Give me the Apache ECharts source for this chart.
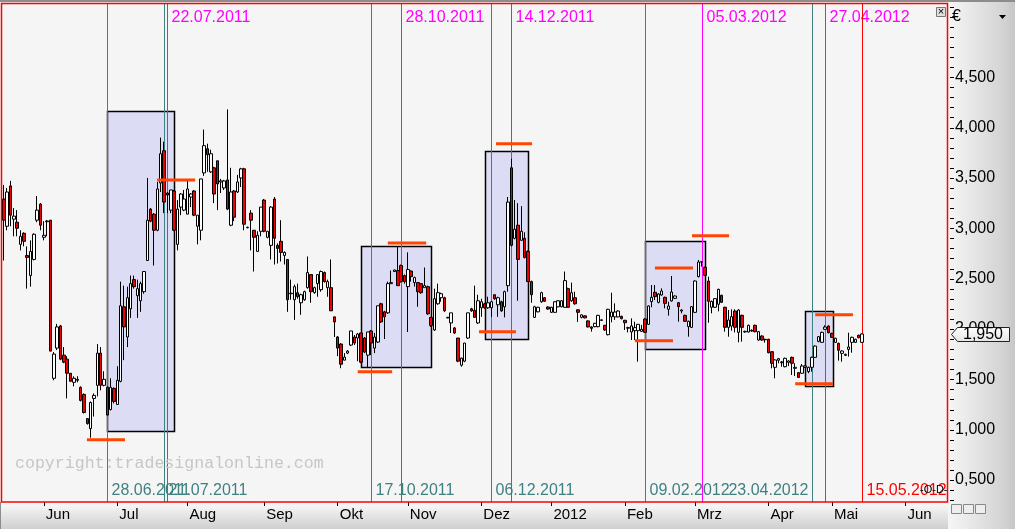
<!DOCTYPE html>
<html><head><meta charset="utf-8">
<script src="https://cdn.jsdelivr.net/npm/echarts@6/dist/echarts.min.js"></script>
<style>
html,body{margin:0;padding:0;background:#f5f5f5;overflow:hidden;}
#c{width:1015px;height:529px;
background:
 linear-gradient(to bottom,#8c8c8c,#8c8c8c) 0 0/1015px 2px no-repeat,
 linear-gradient(to right,#8c8c8c,#8c8c8c) 0 502px/1px 27px no-repeat,
 linear-gradient(to right,#f6f6f6,#d2d2d2 85%,#c6c6c6) 948px 0/67px 529px no-repeat,
 linear-gradient(to bottom,#fbfbfb,#dcdcdc 70%,#cfcfcf) 0 502px/948px 27px no-repeat,
 #f5f5f5;}
</style>
</head><body><div id="c"></div>
<script>
// ---------- categories (trading days) ----------
const firstTradingDay = '2011-05-16';
const holidays = ['2011-12-26','2012-04-06','2012-04-09','2012-05-01'];
const nCategories = 283;
const monthNames = ['Jan','Feb','Mrz','Apr','Mai','Jun','Jul','Aug','Sep','Okt','Nov','Dez'];

// ---------- OHLC values (open, close, low, high) ----------
const ohlc = [
[3.29,3.08,2.68,3.43],[3.02,3.36,2.98,3.40],[3.42,3.13,3.02,3.47],[3.09,3.12,2.92,3.20],[3.06,3.00,2.92,3.18],
[2.84,2.92,2.78,2.98],[2.95,2.87,2.82,2.96],[2.73,2.71,2.40,2.82],[2.53,2.77,2.42,2.88],[2.69,2.94,2.68,2.95],
[3.08,3.18,3.06,3.32],[3.24,3.03,2.98,3.25],[2.91,2.93,2.88,3.07],[3.065,3.072,2.92,3.08],[3.08,1.78,1.78,3.08],
[1.51,1.75,1.49,1.77],[1.81,2.02,1.79,2.05],[2.03,1.70,1.69,2.04],[1.74,1.67,1.66,1.82],[1.70,1.56,1.31,1.73],
[1.56,1.48,1.48,1.56],[1.47,1.51,1.43,1.53],[1.49,1.50,1.47,1.53],[1.42,1.29,1.28,1.43],[1.35,1.17,1.16,1.36],
[1.11,1.06,1.05,1.11],[1.01,1.27,0.92,1.28],[1.31,1.34,1.13,1.36],[1.44,1.76,1.33,1.85],[1.76,1.44,1.39,1.82],
[1.44,1.50,1.43,1.58],[1.42,1.145,1.14,1.43],[1.20,1.42,1.19,1.51],[1.41,1.28,1.26,1.42],[1.25,1.49,1.25,1.63],
[1.48,2.23,1.47,2.47],[2.22,2.02,1.69,2.43],[1.92,2.31,1.82,2.42],[2.20,2.45,2.11,2.53],[2.49,2.42,2.40,2.53],
[2.33,2.40,2.11,2.49],[2.28,2.45,2.17,2.47],[2.37,2.57,2.35,2.57],[2.68,3.08,2.68,3.50],[3.19,3.07,3.06,3.20],
[3.14,2.98,2.63,3.15],[2.98,3.39,2.97,3.46],[3.45,3.74,3.36,3.90],[3.77,3.26,3.15,3.86],[3.35,3.33,3.15,3.36],
[3.18,3.38,3.15,3.38],[3.37,2.98,2.97,3.38],[2.84,3.19,2.78,3.28],[3.21,3.34,3.13,3.35],[3.18,3.29,3.17,3.38],
[3.14,3.39,3.14,3.47],[3.31,3.34,3.21,3.35],[3.37,3.13,3.12,3.38],[3.02,3.13,2.84,3.13],[2.98,3.49,2.88,3.49],
[3.55,3.82,3.52,3.98],[3.79,3.73,3.56,3.84],[3.56,3.74,3.55,3.78],[3.60,3.34,3.25,3.61],[3.67,3.44,3.18,3.67],
[3.46,3.47,3.35,3.49],[3.40,3.47,3.38,3.48],[3.48,3.19,3.18,4.18],[3.03,3.36,3.02,3.60],[3.37,3.11,3.07,3.38],
[3.36,3.46,3.35,3.53],[3.50,3.59,3.41,3.60],[3.59,3.04,2.98,3.60],[3.005,3.01,3.00,3.015],[3.15,3.08,2.78,3.18],
[2.98,2.91,2.57,2.98],[2.77,2.93,2.77,2.97],[2.97,3.21,2.92,3.21],[3.28,2.97,2.96,3.29],[2.91,2.97,2.90,2.97],
[2.83,3.21,2.69,3.22],[3.29,2.90,2.64,3.31],[2.83,2.80,2.65,2.85],[2.87,2.76,2.67,3.08],[2.73,2.76,2.64,2.77],
[2.69,2.29,2.17,2.69],[2.35,2.355,2.29,2.49],[2.29,2.42,2.09,2.44],[2.36,2.32,2.30,2.45],[2.26,2.34,2.14,2.35],
[2.29,2.37,2.28,2.38],[2.41,2.56,2.40,2.72],[2.54,2.37,2.26,2.54],[2.36,2.41,2.35,2.42],[2.45,2.54,2.32,2.54],
[2.39,2.57,2.37,2.58],[2.56,2.47,2.46,2.57],[2.41,2.47,2.32,2.49],[2.41,2.18,2.18,2.69],[2.12,2.07,1.92,2.12],
[1.92,1.81,1.73,1.93],[1.85,1.65,1.61,1.86],[1.69,1.72,1.69,1.76],[1.76,1.78,1.75,1.79],[1.84,1.98,1.83,1.98],
[1.92,1.86,1.84,1.94],[1.91,1.95,1.68,1.96],[1.96,1.67,1.66,1.96],[1.91,1.77,1.76,1.92],[1.74,1.97,1.62,1.97],
[1.98,1.86,1.74,1.99],[1.81,1.92,1.76,1.96],[1.87,2.23,1.86,2.23],[2.25,2.07,2.06,2.26],[2.17,2.12,1.90,2.18],
[2.16,2.45,2.15,2.47],[2.45,2.46,2.45,2.58],[2.57,2.585,2.57,2.59],[2.58,2.43,2.43,2.82],[2.63,2.47,2.46,2.64],
[2.53,2.47,2.45,2.54],[2.42,2.59,1.97,2.76],[2.575,2.52,2.47,2.58],[2.46,2.51,2.42,2.52],[2.46,2.37,2.22,2.46],
[2.45,2.36,2.35,2.45],[2.41,2.43,2.41,2.61],[2.42,2.15,2.14,2.43],[2.115,2.033,2.02,2.12],[1.99,2.30,1.98,2.40],
[2.25,2.36,2.24,2.45],[2.31,2.35,2.27,2.36],[2.31,2.18,2.17,2.32],[2.11,2.115,2.105,2.12],[2.06,2.16,1.96,2.16],
[2.01,1.96,1.95,2.02],[1.91,1.68,1.67,1.91],[1.64,1.71,1.625,1.715],[1.68,1.86,1.67,1.86],[1.91,2.16,1.90,2.16],
[2.20,2.18,2.17,2.21],[2.185,2.115,2.11,2.43],[2.06,2.28,2.05,2.34],[2.21,2.27,2.12,2.30],[2.25,2.21,2.20,2.26],
[2.21,2.26,2.20,2.32],[2.21,2.27,2.12,2.28],[2.34,2.30,2.29,2.34],[2.24,2.31,2.12,2.32],[2.27,2.18,2.17,2.28],
[2.22,2.37,2.115,2.38],[2.43,3.26,2.37,3.31],[3.60,2.83,2.82,3.69],[2.90,2.99,2.89,3.28],[3.03,2.69,2.28,3.25],
[2.88,2.97,2.88,3.22],[2.90,2.71,2.70,2.96],[2.77,2.47,2.47,2.78],[2.47,2.34,2.26,2.48],[2.115,2.22,2.11,2.23],
[2.17,2.215,2.165,2.22],[2.27,2.36,2.26,2.37],[2.31,2.275,2.27,2.315],[2.218,2.198,2.19,2.225],[2.165,2.215,2.16,2.22],
[2.165,2.27,2.16,2.275],[2.22,2.28,2.215,2.285],[2.22,2.28,2.215,2.285],[2.215,2.48,2.21,2.57],[2.40,2.215,2.21,2.41],
[2.28,2.36,2.27,2.46],[2.31,2.25,2.24,2.37],[2.19,2.165,2.07,2.195],[2.115,2.14,2.105,2.145],[2.13,2.11,2.105,2.135],
[2.08,2.02,2.015,2.085],[2.02,2.006,1.973,2.026],[2.023,2.056,2.016,2.06],[2.023,2.135,2.016,2.14],[2.085,2.09,2.08,2.095],
[2.036,1.99,1.983,2.04],[1.943,2.195,1.936,2.20],[2.12,2.168,2.066,2.36],[2.12,2.168,2.09,2.254],[2.12,2.178,2.115,2.185],
[2.125,2.102,2.095,2.132],[2.086,2.062,1.99,2.09],[2.013,2.008,1.966,2.022],[1.97,2.03,1.89,2.105],[1.983,2.013,1.89,2.072],
[1.983,2.046,1.675,2.049],[1.976,1.996,1.97,2.04],[2.099,1.966,1.963,2.105],[2.046,2.228,2.04,2.234],[2.271,2.314,2.215,2.436],
[2.364,2.321,2.287,2.436],[2.264,2.347,2.254,2.354],[2.337,2.377,2.33,2.403],[2.314,2.254,2.205,2.321],[2.195,2.228,2.132,2.271],
[2.278,2.367,2.271,2.526],[2.304,2.327,2.297,2.334],[2.261,2.221,2.072,2.268],[2.178,2.188,2.155,2.195],[2.135,2.076,2.069,2.142],
[2.023,2.076,1.923,2.082],[2.016,2.221,2.01,2.228],[2.165,2.476,2.158,2.482],[2.519,2.665,2.512,2.685],[2.664,2.668,2.619,2.672],
[2.612,2.532,2.526,2.619],[2.476,2.274,2.062,2.519],[2.215,2.274,2.155,2.281],[2.215,2.301,2.208,2.307],[2.245,2.393,2.175,2.40],
[2.334,2.264,2.258,2.34],[2.215,2.016,1.973,2.221],[2.016,2.089,1.923,2.188],[2.029,2.122,1.983,2.195],[2.178,2.016,1.966,2.195],
[1.966,2.188,1.867,2.195],[2.135,2.016,1.874,2.142],[1.970,1.976,1.963,1.983],[1.97,2.036,1.963,2.043],[1.98,1.986,1.973,1.996],
[2.036,1.973,1.966,2.043],[1.89,1.973,1.883,1.98],[1.93,1.89,1.883,1.937],[1.893,1.897,1.864,1.903],[1.897,1.764,1.758,1.903],
[1.774,1.659,1.609,1.781],[1.619,1.692,1.51,1.698],[1.689,1.705,1.659,1.712],[1.665,1.672,1.625,1.682],[1.625,1.708,1.619,1.715],
[1.668,1.682,1.632,1.689],[1.718,1.659,1.543,1.725],[1.609,1.619,1.533,1.659],[1.566,1.519,1.513,1.573],[1.56,1.632,1.553,1.652],
[1.619,1.632,1.612,1.639],[1.576,1.619,1.56,1.625],[1.619,1.718,1.576,1.725],[1.718,1.83,1.712,1.837],[1.877,1.923,1.867,1.93],
[1.867,1.966,1.864,1.973],[1.996,2.019,1.99,2.036],[2.029,1.963,1.956,2.036],[1.956,1.917,1.91,1.963],[1.867,1.907,1.86,1.913],
[1.857,1.788,1.685,1.864],[1.758,1.781,1.675,1.788],[1.738,1.748,1.731,1.754],[1.797,1.821,1.725,1.963],[1.867,1.917,1.764,1.923],
[1.867,1.897,1.86,1.903],[1.937,1.913,1.907,1.943],[1.867,1.95,1.86,1.955]
];

// ---------- markers ----------
const tealDates = ['2011-06-28','2011-07-21','2011-10-17','2011-12-06','2012-02-09','2012-04-23'];
const tealLabelSide = ['right','right','right','right','right','left'];
const magentaDates = ['2011-07-22','2011-10-28','2011-12-14','2012-03-05','2012-04-27'];
const redDates = ['2012-05-15'];
// boxes: [start index, end index, top value, bottom value]
const boxes = [
  [31, 51.1, 4.161, 0.984],
  [107.1, 128.2, 2.821, 1.619],
  [144.2, 157.2, 3.764, 1.897],
  [192.1, 210.2, 2.871, 1.798],
  [240.0, 248.3, 2.175, 1.430]
];
// level lines: [start index, end index, value]
const levels = [
  [24.9, 36.3, 0.900], [45.9, 57.3, 3.479], [106.0, 116.3, 1.575], [115.0, 126.5, 2.853],
  [142.3, 153.4, 1.973], [147.4, 158.2, 3.840], [189.0, 200.4, 1.883], [195.0, 206.4, 2.605],
  [206.1, 217.2, 2.926], [237.0, 248.3, 1.456], [243.0, 254.3, 2.141]
];

// ---------- y axis ----------
const yMin = 0.2815, yMax = 5.2368;
const yLabelValues = [0.5, 1.0, 1.5, 2.0, 2.5, 3.0, 3.5, 4.0, 4.5];
const yMinorStep = 0.1;

function buildDates() {
  const out = [];
  const d = new Date(firstTradingDay + 'T00:00:00Z');
  while (out.length < nCategories) {
    const wd = d.getUTCDay();
    const s = d.toISOString().slice(0, 10);
    if (wd !== 0 && wd !== 6 && holidays.indexOf(s) < 0) out.push(s);
    d.setUTCDate(d.getUTCDate() + 1);
  }
  return out;
}
const dates = buildDates();
const yTickValues = [];
for (let v = 0.3; v < yMax; v += yMinorStep) yTickValues.push(Math.round(v * 10) / 10);

const fmtNum = v => v.toFixed(3).replace('.', ',');
const fmtDate = s => s.slice(8, 10) + '.' + s.slice(5, 7) + '.' + s.slice(0, 4);
const isMonthStart = (i, val) => i > 0 && dates[i].slice(0, 7) !== dates[i - 1].slice(0, 7);

const markerData = [];
tealDates.forEach((s, i) => markerData.push([dates.indexOf(s), 0, tealLabelSide[i] === 'left' ? 1 : 0]));
magentaDates.forEach(s => markerData.push([dates.indexOf(s), 1, 0]));
redDates.forEach(s => markerData.push([dates.indexOf(s), 2, 0]));
const markerColors = ['#3f8080', '#ff00ff', '#ff0000'];

const FONT = 'Liberation Sans';
const chart = echarts.init(document.getElementById('c'), null, { renderer: 'canvas' });

const baseGraphic = [
  { id: 'frame', type: 'rect', z: 100, silent: true,
    shape: { x: 1.5, y: 3.5, width: 946, height: 498.5 },
    style: { fill: 'none', stroke: '#ff0000', lineWidth: 1.5 } },
  { id: 'wm', type: 'text', z: 50, silent: true, x: 15, y: 464,
    style: { text: 'copyright:tradesignalonline.com', fill: '#c6c6c6', fontFamily: 'Liberation Mono', fontSize: 16.6, verticalAlign: 'middle' } },
  { id: 'euro', type: 'text', z: 100, x: 952, y: 17,
    style: { text: '€', fill: '#000', fontFamily: FONT, fontSize: 16, verticalAlign: 'middle' } },
  { id: 'tri', type: 'polygon', z: 100, shape: { points: [[999, 15], [1006, 15], [1002.5, 19]] }, style: { fill: '#000' } },
  { id: 'xbox', type: 'rect', z: 101, shape: { x: 936.5, y: 7.5, width: 9, height: 9 }, style: { fill: '#e0e0e0', stroke: '#777', lineWidth: 1 } },
  { id: 'xmark', type: 'text', z: 102, x: 941, y: 12, style: { text: '×', fill: '#000', fontFamily: FONT, fontSize: 11, align: 'center', verticalAlign: 'middle' } },
  { id: 'od', type: 'text', z: 102, x: 920, y: 490, style: { text: '-O-D-', fill: '#000', fontFamily: FONT, fontSize: 11, verticalAlign: 'middle' } },
  { id: 'ic1', type: 'rect', z: 100, shape: { x: 951.5, y: 504.5, width: 10, height: 9 }, style: { fill: '#eee', stroke: '#888' } },
  { id: 'ic2', type: 'rect', z: 100, shape: { x: 963.5, y: 504.5, width: 10, height: 9 }, style: { fill: '#eee', stroke: '#888' } },
  { id: 'ic3', type: 'rect', z: 100, shape: { x: 975.5, y: 504.5, width: 10, height: 9 }, style: { fill: '#eee', stroke: '#888' } }
];

const option = {
  animation: false,
  backgroundColor: 'transparent',
  grid: { left: 2.12, right: 67.88, top: 3, bottom: 27, show: false },
  xAxis: [
    { type: 'category', data: dates, boundaryGap: true,
      axisLine: { show: false },
      axisTick: { show: true, alignWithLabel: true, interval: isMonthStart, length: 4, lineStyle: { color: '#000', width: 1 } },
      axisLabel: { interval: isMonthStart, align: 'left', margin: 5, padding: [0, 0, 0, 2], color: '#000', fontSize: 15, fontFamily: FONT,
        formatter: v => { const m = +v.slice(5, 7); return m === 1 ? v.slice(0, 4) : monthNames[m - 1]; } },
      splitLine: { show: false } },
    { type: 'value', min: -0.5, max: nCategories - 0.5, show: false }
  ],
  yAxis: { type: 'value', position: 'right', min: yMin, max: yMax,
    axisLine: { show: false }, splitLine: { show: false },
    axisTick: { show: false },
    axisLabel: { customValues: yLabelValues, formatter: v => fmtNum(v), margin: 8, fontSize: 16, color: '#000', fontFamily: FONT } },
  series: [
    { type: 'custom', name: 'boxes', xAxisIndex: 1, z: 1, silent: true, data: boxes,
      encode: { x: [0, 1], y: [2, 3] },
      renderItem: (params, api) => {
        const p0 = api.coord([api.value(0), api.value(2)]);
        const p1 = api.coord([api.value(1), api.value(3)]);
        return { type: 'rect', shape: { x: Math.round(p0[0]) + 0.5, y: Math.round(p0[1]) + 0.5, width: Math.round(p1[0] - p0[0]), height: Math.round(p1[1] - p0[1]) },
          style: { fill: '#dcdcf4', stroke: '#000', lineWidth: 1.5 } };
      } },
    { type: 'custom', name: 'markers', xAxisIndex: 0, z: 2, silent: true, data: markerData,
      renderItem: (params, api) => {
        const idx = api.value(0), kind = api.value(1), leftSide = api.value(2) === 1;
        const x = Math.round(api.coord([idx, 1])[0]) + 0.5;
        const cs = params.coordSys;
        const color = markerColors[kind];
        const ly = kind === 1 ? cs.y + 15 : cs.y + cs.height - 11;
        return { type: 'group', children: [
          { type: 'line', shape: { x1: x, y1: cs.y, x2: x, y2: cs.y + cs.height }, style: { stroke: color, lineWidth: 1 } },
          { type: 'text', x: leftSide ? x - 4 : x + 4, y: ly, style: { text: fmtDate(dates[idx]), fill: color, fontFamily: FONT, fontSize: 16, verticalAlign: 'middle', align: leftSide ? 'right' : 'left' } }
        ] };
      } },
    { type: 'candlestick', name: 'price', data: ohlc, barWidth: 3, z: 3, silent: true,
      itemStyle: { color: '#ffffff', color0: '#f00000', borderColor: '#000', borderColor0: '#000', borderWidth: 1 } },
    { type: 'custom', name: 'levels', xAxisIndex: 1, z: 4, silent: true, data: levels,
      encode: { x: [0, 1], y: 2 },
      renderItem: (params, api) => {
        const p0 = api.coord([api.value(0), api.value(2)]);
        const p1 = api.coord([api.value(1), api.value(2)]);
        return { type: 'line', shape: { x1: p0[0], y1: p0[1], x2: p1[0], y2: p1[1] }, style: { stroke: '#ff4500', lineWidth: 3 } };
      } }
  ],
  graphic: baseGraphic
};
chart.setOption(option);

// y-axis ticks (positions from the axis scale) and the last-price tag
const tickGraphic = yTickValues.map((v, i) => {
  const y = Math.round(chart.convertToPixel({ yAxisIndex: 0 }, v)) + 0.5;
  return { id: 'yt' + i, type: 'line', z: 105, silent: true, shape: { x1: 950, y1: y, x2: 954, y2: y }, style: { stroke: '#000', lineWidth: 1 } };
});
const lastClose = ohlc[ohlc.length - 1][1];
const ty = Math.round(chart.convertToPixel({ yAxisIndex: 0 }, lastClose)) + 0.5;
chart.setOption({ graphic: baseGraphic.concat(tickGraphic, [
  { id: 'tag', type: 'polygon', z: 110,
    shape: { points: [[951.5, ty], [957.5, ty - 7], [1009.5, ty - 7], [1009.5, ty + 7], [957.5, ty + 7]] },
    style: { fill: new echarts.graphic.LinearGradient(0, 0, 0, 1, [{ offset: 0, color: '#ffffff' }, { offset: 1, color: '#e4e4e4' }]), stroke: '#222', lineWidth: 1 } },
  { id: 'tagtxt', type: 'text', z: 111, x: 983, y: ty,
    style: { text: fmtNum(lastClose), fill: '#000', fontFamily: FONT, fontSize: 16, align: 'center', verticalAlign: 'middle' } }
]) });
</script>
</body></html>
